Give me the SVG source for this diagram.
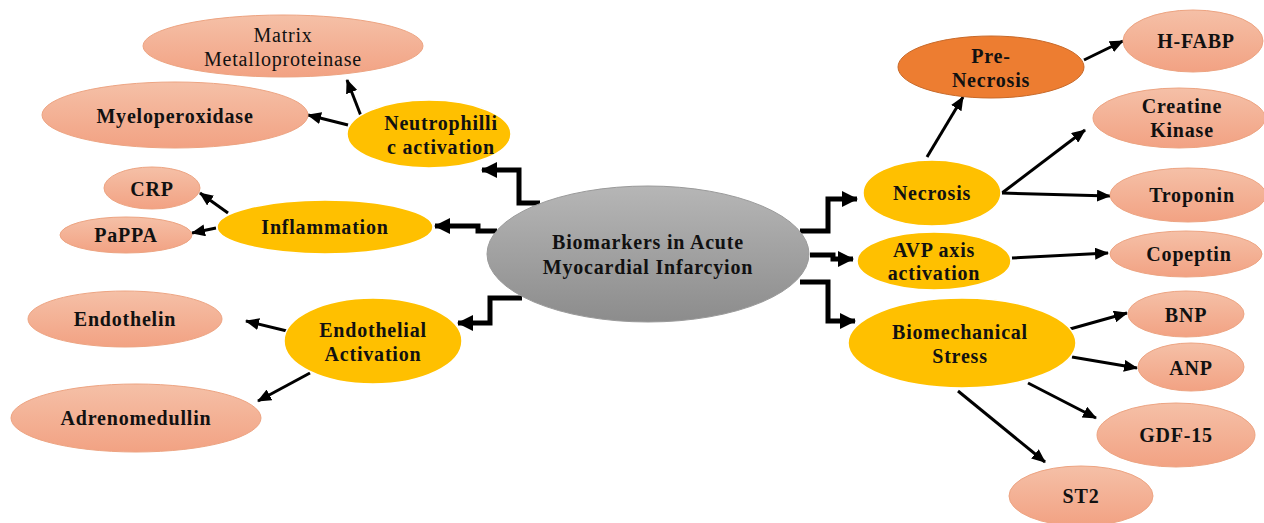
<svg xmlns="http://www.w3.org/2000/svg" width="1264" height="523" viewBox="0 0 1264 523">
<defs>
<linearGradient id="gSalmon" x1="0" y1="0" x2="0" y2="1">
<stop offset="0" stop-color="#f5c0a7"/>
<stop offset="1" stop-color="#f2a283"/>
</linearGradient>
<linearGradient id="gGray" x1="0" y1="0" x2="0" y2="1">
<stop offset="0" stop-color="#b6b6b6"/>
<stop offset="1" stop-color="#8c8c8c"/>
</linearGradient>
<marker id="aThin" markerUnits="userSpaceOnUse" markerWidth="14" markerHeight="12" viewBox="0 0 14 12" refX="13" refY="6" orient="auto">
<path d="M0,0 L14,6 L0,12 Z" fill="#000"/>
</marker>
<marker id="aThick" markerUnits="userSpaceOnUse" markerWidth="16" markerHeight="16" viewBox="0 0 16 16" refX="15" refY="8" orient="auto">
<path d="M0,0 L16,8 L0,16 Z" fill="#000"/>
</marker>
</defs>
<style>
.t{font-family:"Liberation Serif","Times New Roman",serif;font-size:20px;font-weight:bold;fill:#111;text-anchor:middle;letter-spacing:0.8px}
.r{font-weight:normal}
.sal{fill:url(#gSalmon);stroke:#eda482;stroke-width:1}
.yel{fill:#ffc000;stroke:#ffffff;stroke-width:1.5}
.org{fill:#ed7d31;stroke:#c86a2a;stroke-width:1}
.gry{fill:url(#gGray);stroke:#9a9a9a;stroke-width:1}
.thin{fill:none;stroke:#000;stroke-width:3;marker-end:url(#aThin)}
.thick{fill:none;stroke:#000;stroke-width:5;stroke-linejoin:miter;marker-end:url(#aThick)}
</style>
<rect width="1264" height="523" fill="#ffffff"/>

<g id="connectors">
<polyline class="thick" points="540,203 519,203 519,170 482,170"/>
<polyline class="thick" points="497,231 478,231 478,226 435,226"/>
<polyline class="thick" points="522,298 490,298 490,323 458,323"/>
<polyline class="thick" points="800,231 828,231 828,199 857,199"/>
<polyline class="thick" points="810,255 833,255 833,259 853,259"/>
<polyline class="thick" points="800,282 828,282 828,321 855,321"/>
<line class="thin" x1="361" y1="116" x2="347" y2="80"/>
<line class="thin" x1="348" y1="125" x2="308" y2="115"/>
<line class="thin" x1="228" y1="213" x2="200" y2="193"/>
<line class="thin" x1="216" y1="228" x2="192" y2="233"/>
<line class="thin" x1="287" y1="331" x2="246" y2="321"/>
<line class="thin" x1="310" y1="373" x2="258" y2="401"/>
<line class="thin" x1="927" y1="157" x2="963" y2="97"/>
<line class="thin" x1="1002" y1="193" x2="1085" y2="130"/>
<line class="thin" x1="1002" y1="193" x2="1110" y2="196"/>
<line class="thin" x1="1084" y1="60" x2="1123" y2="41"/>
<line class="thin" x1="1012" y1="258" x2="1108" y2="253"/>
<line class="thin" x1="1070" y1="329" x2="1127" y2="313"/>
<line class="thin" x1="1072" y1="357" x2="1137" y2="368"/>
<line class="thin" x1="1028" y1="383" x2="1096" y2="418"/>
<line class="thin" x1="958" y1="391" x2="1045" y2="462"/>
</g>

<g id="center">
<ellipse class="gry" cx="648" cy="254" rx="161" ry="68"/>
<text class="t" x="648" y="249">Biomarkers in Acute</text>
<text class="t" x="648" y="274">Myocardial Infarcyion</text>
</g>

<g id="neutrophilic">
<ellipse class="yel" cx="429" cy="134" rx="82" ry="34"/>
<text class="t" x="441" y="130">Neutrophilli</text>
<text class="t" x="441" y="154">c activation</text>
</g>
<g id="mmp">
<ellipse class="sal" cx="283" cy="46" rx="140" ry="31"/>
<text class="t r" x="283" y="42">Matrix</text>
<text class="t r" x="283" y="66">Metalloproteinase</text>
</g>
<g id="mpo">
<ellipse class="sal" cx="175" cy="115" rx="133" ry="33"/>
<text class="t" x="175" y="123">Myeloperoxidase</text>
</g>

<g id="inflammation">
<ellipse class="yel" cx="325" cy="227" rx="108" ry="27"/>
<text class="t" x="325" y="234">Inflammation</text>
</g>
<g id="crp">
<ellipse class="sal" cx="152" cy="188" rx="48" ry="21"/>
<text class="t" x="152" y="196">CRP</text>
</g>
<g id="pappa">
<ellipse class="sal" cx="126" cy="235" rx="66" ry="18"/>
<text class="t" x="126" y="242">PaPPA</text>
</g>

<g id="endothelial">
<ellipse class="yel" cx="373" cy="341" rx="89" ry="43"/>
<text class="t" x="373" y="337">Endothelial</text>
<text class="t" x="373" y="361">Activation</text>
</g>
<g id="endothelin">
<ellipse class="sal" cx="125" cy="319" rx="97" ry="28"/>
<text class="t" x="125" y="326">Endothelin</text>
</g>
<g id="adrenomedullin">
<ellipse class="sal" cx="136" cy="418" rx="125" ry="34"/>
<text class="t" x="136" y="425">Adrenomedullin</text>
</g>

<g id="necrosis">
<ellipse class="yel" cx="932" cy="193" rx="69" ry="33"/>
<text class="t" x="932" y="200">Necrosis</text>
</g>
<g id="prenecrosis">
<ellipse class="org" cx="991" cy="67" rx="93" ry="31"/>
<text class="t" x="991" y="63">Pre-</text>
<text class="t" x="991" y="87">Necrosis</text>
</g>
<g id="hfabp">
<ellipse class="sal" cx="1193" cy="41" rx="70" ry="31"/>
<text class="t" x="1196" y="48">H-FABP</text>
</g>
<g id="ck">
<ellipse class="sal" cx="1179" cy="118" rx="86" ry="30"/>
<text class="t" x="1182" y="113">Creatine</text>
<text class="t" x="1182" y="137">Kinase</text>
</g>
<g id="troponin">
<ellipse class="sal" cx="1188" cy="195" rx="78" ry="27"/>
<text class="t" x="1192" y="202">Troponin</text>
</g>

<g id="avp">
<ellipse class="yel" cx="934" cy="261" rx="77" ry="29"/>
<text class="t" x="934" y="257">AVP axis</text>
<text class="t" x="934" y="280">activation</text>
</g>
<g id="copeptin">
<ellipse class="sal" cx="1186" cy="254" rx="76" ry="23"/>
<text class="t" x="1189" y="261">Copeptin</text>
</g>

<g id="biomech">
<ellipse class="yel" cx="962" cy="343" rx="114" ry="45"/>
<text class="t" x="960" y="339">Biomechanical</text>
<text class="t" x="960" y="363">Stress</text>
</g>
<g id="bnp">
<ellipse class="sal" cx="1186" cy="314" rx="58" ry="23"/>
<text class="t" x="1186" y="322">BNP</text>
</g>
<g id="anp">
<ellipse class="sal" cx="1191" cy="367" rx="53" ry="24"/>
<text class="t" x="1191" y="375">ANP</text>
</g>
<g id="gdf15">
<ellipse class="sal" cx="1176" cy="435" rx="79" ry="32"/>
<text class="t" x="1176" y="442">GDF-15</text>
</g>
<g id="st2">
<ellipse class="sal" cx="1081" cy="496" rx="72" ry="30"/>
<text class="t" x="1081" y="503">ST2</text>
</g>
</svg>
